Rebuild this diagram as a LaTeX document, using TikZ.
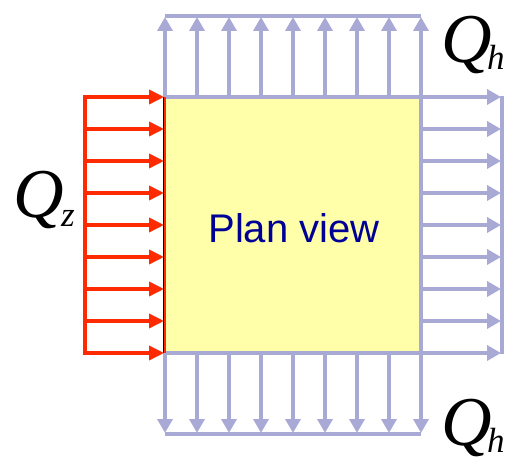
\documentclass[tikz,border=0pt]{standalone}
\usepackage{fontspec}
\setmainfont{Liberation Serif}
\newfontfamily\labelsans{Liberation Sans}
\usetikzlibrary{arrows.meta}
\definecolor{loadblue}{HTML}{A9A9D6}
\definecolor{loadred}{HTML}{FF2A00}
\definecolor{planyellow}{HTML}{FFFFAA}
\definecolor{textblue}{HTML}{000096}
\tikzset{
  bluearrow/.style={draw=loadblue, line width=3.5pt, -{Triangle[length=14pt,width=15pt]}},
  redarrow/.style={draw=loadred, line width=3.5pt, -{Triangle[length=15pt,width=14pt]}},
  blueline/.style={draw=loadblue, line width=3.5pt},
  redline/.style={draw=loadred, line width=3.5pt},
  bigq/.style={inner sep=0pt, anchor=base west, font=\fontsize{70}{70}\selectfont\itshape},
  subq/.style={inner sep=0pt, anchor=base west, font=\fontsize{35}{35}\selectfont\itshape},
}
\begin{document}
\begin{tikzpicture}[x=1pt,y=-1pt]
\useasboundingbox (0,0) rectangle (508,457);
% plan box
\node[draw=black, line width=1.5pt, fill=planyellow, minimum width=256pt, minimum height=255pt, inner sep=0pt, anchor=north west] (plan) at (163,97) {};
\node[text=textblue, font=\labelsans\fontsize{40}{40}\selectfont, anchor=base] (label) at (294,242) {Plan view};
% blue frame lines along box edges (top, right, bottom)
\coordinate (ftl) at (165,97);
\coordinate (ftr) at (421,97);
\coordinate (fbr) at (421,353);
\coordinate (fbl) at (165,353);
\draw[blueline] (ftl) -- (ftr) -- (fbr) -- (fbl);
% top arrows
\foreach \i in {0,...,8}{
  \coordinate (tb\i) at ({165+32*\i},97);
  \coordinate (tt\i) at ({165+32*\i},17);
  \draw[bluearrow] (tb\i) -- (tt\i);
  \coordinate (bb\i) at ({165+32*\i},353);
  \coordinate (bt\i) at ({165+32*\i},433);
  \draw[bluearrow] (bb\i) -- (bt\i);
  \coordinate (rb\i) at (421,{97+32*\i});
  \coordinate (rt\i) at (501,{97+32*\i});
  \draw[bluearrow] (rb\i) -- (rt\i);
  \coordinate (lb\i) at (85,{97+32*\i});
  \coordinate (lt\i) at (164,{97+32*\i});
  \draw[redarrow] (lb\i) -- (lt\i);
}
\coordinate (topl) at (165,16);
\coordinate (topr) at (421,16);
\draw[blueline] (topl) -- (topr);
\coordinate (botl) at (165,434);
\coordinate (botr) at (421,434);
\draw[blueline] (botl) -- (botr);
\coordinate (rgt) at (502,96);
\coordinate (rgb) at (502,354);
\draw[blueline] (rgt) -- (rgb);
\coordinate (redt) at (85,95.5);
\coordinate (redb) at (85,354.5);
\draw[redline] (redt) -- (redb);
\coordinate (rede1) at (165,97);
\coordinate (rede2) at (165,353);
\draw[redline, line width=2pt] (rede1) -- (rede2);
% labels
\node[bigq] (qz) at (13,217) {Q};
\node[subq] (qzs) at (61,226) {z};
\node[bigq] (qh1) at (441,63) {Q};
\node[subq] (qh1s) at (487,70) {h};
\node[bigq] (qh2) at (441,445) {Q};
\node[subq] (qh2s) at (487,452) {h};
\end{tikzpicture}
\end{document}
